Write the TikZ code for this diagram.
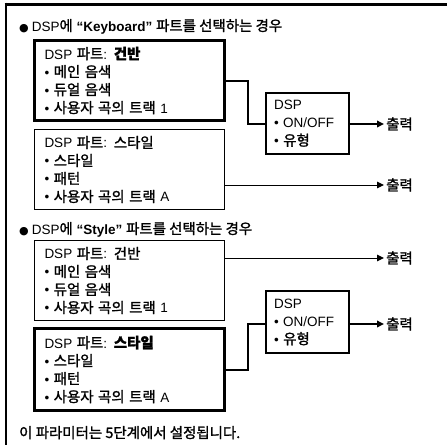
\documentclass[tikz,border=0pt]{standalone}
\usepackage{fontspec}
\setmainfont{Liberation Sans}
\newfontfamily\krfont[Scale=1.07,FakeBold=1.5]{Noto Sans CJK KR}
\newfontfamily\dvfont{DejaVu Sans}
\usetikzlibrary{arrows.meta}
\newcommand\K[1]{{\krfont #1}}
\begin{document}
\begin{tikzpicture}[x=1pt,y=-1pt,
  txt/.style={font=\fontsize{13.5}{18}\selectfont},
  partbox/.style={draw, rectangle, anchor=north west, text width=170pt, inner xsep=10pt, inner ysep=0pt, align=left, minimum height=80pt, txt},
  thickbox/.style={line width=3pt},
  thinbox/.style={line width=1pt},
  dspbox/.style={draw, rectangle, anchor=north west, line width=2pt, text width=67pt, inner xsep=8pt, inner ysep=0pt, align=left, txt},
  outlbl/.style={anchor=west, inner sep=0pt, txt},
  head/.style={anchor=base west, inner sep=0pt, txt},
  conn/.style={line width=2pt},
  arr/.style={-{Triangle[length=7pt,width=6.5pt]}},
]
\useasboundingbox (0,0) rectangle (447,445);
% frame
\draw[line width=3pt] (4.5,4) -- (447,4);
\draw[line width=2.5pt] (6,2.5) -- (6,445);

% section 1
\node[head] (h1) at (19,31) {{\dvfont\fontsize{11}{11}\selectfont ●}\hspace{3pt}DSP\K{에} \textbf{“Keyboard”} \K{파트를 선택하는 경우}};
\node[partbox,thickbox] (b1) at (33,39) {DSP \K{파트}: \K{\bfseries 건반}\\• \K{메인 음색}\\• \K{듀얼 음색}\\• \K{사용자 곡의 트랙} 1};
\node[partbox,thinbox] (b2) at (34,129) {DSP \K{파트}: \K{스타일}\\• \K{스타일}\\• \K{패턴}\\• \K{사용자 곡의 트랙} A};
\node[dspbox,minimum height=61pt] (d1) at (265,92) {DSP\\• ON/OFF\\• \K{유형}};
\node[outlbl] (o1) at (386,124) {\K{출력}};
\node[outlbl] (o2) at (386,185) {\K{출력}};
\draw[conn] (b1.east) -- ++(22,0) |- (d1.west |- o1.west);
\draw[conn,arr] (d1.east |- o1.west) -- ([xshift=-2pt]o1.west);
\draw[line width=1pt,arr] (b2.east |- o2.west) -- ([xshift=-2pt]o2.west);

% section 2
\node[head] (h2) at (19,234) {{\dvfont\fontsize{11}{11}\selectfont ●}\hspace{3pt}DSP\K{에} \textbf{“Style”} \K{파트를 선택하는 경우}};
\node[partbox,thinbox] (b3) at (34,240) {DSP \K{파트}: \K{건반}\\• \K{메인 음색}\\• \K{듀얼 음색}\\• \K{사용자 곡의 트랙} 1};
\node[partbox,thickbox,minimum height=82pt] (b4) at (33,327) {DSP \K{파트}: \K{\bfseries 스타일}\\• \K{스타일}\\• \K{패턴}\\• \K{사용자 곡의 트랙} A};
\node[dspbox,minimum height=62pt] (d2) at (265,290) {DSP\\• ON/OFF\\• \K{유형}};
\node[outlbl] (o3) at (386,258) {\K{출력}};
\node[outlbl] (o4) at (386,324) {\K{출력}};
\draw[line width=1pt,arr] (b3.east |- o3.west) -- ([xshift=-2pt]o3.west);
\draw[conn] (b4.east) -- ++(22,0) |- (d2.west |- o4.west);
\draw[conn,arr] (d2.east |- o4.west) -- ([xshift=-2pt]o4.west);

% footer
\node[head] (foot) at (19,438) {\K{이 파라미터는 5단계에서 설정됩니다.}};
\end{tikzpicture}
\end{document}
